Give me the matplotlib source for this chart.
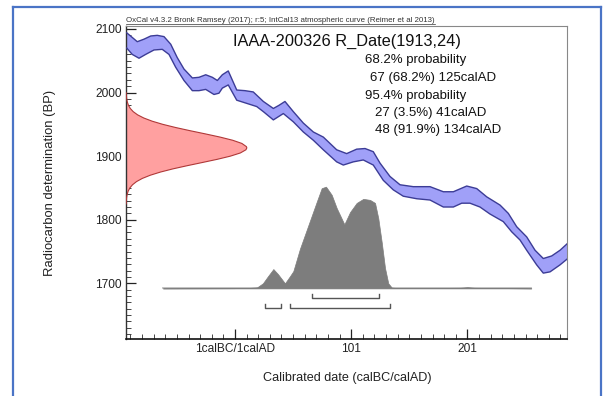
import numpy as np
import matplotlib
matplotlib.use('Agg')
import matplotlib.pyplot as plt
from matplotlib.lines import Line2D

plt.rcParams['font.family'] = ['Liberation Sans', 'DejaVu Sans']

# ---------------- data ----------------
# IntCal13 calibration curve band (upper / lower edges), calendar year vs BP
curve_upper_year = [-92.2, -87.6, -83.1, -77.3, -71.5, -65.9, -60.1, -54.3, -48.7, -42.9,
                    -35.7, -30.0, -24.2, -18.5, -14.2, -9.9, -4.8, 2.5, 9.6, 16.7,
                    25.4, 34.0, 38.9, 44.0, 51.2, 59.8, 68.4, 77.0, 88.5, 97.1,
                    105.7, 112.9, 120.0, 125.8, 134.4, 143.0, 154.4, 168.8, 180.3, 188.9,
                    200.4, 209.0, 217.6, 229.1, 236.2, 243.4, 252.0, 259.2, 266.3, 273.5,
                    280.7, 286.7]
curve_upper_bp = [2094, 2087, 2080, 2084, 2089, 2090, 2088, 2076, 2055, 2037,
                  2023, 2024, 2028, 2024, 2019, 2028, 2034, 2004, 2003, 2001,
                  1986, 1975, 1980, 1986, 1970, 1952, 1938, 1930, 1910, 1904,
                  1911, 1912, 1907, 1889, 1868, 1855, 1852, 1852, 1844, 1844,
                  1853, 1849, 1836, 1823, 1810, 1789, 1773, 1752, 1739, 1743,
                  1752, 1762]
curve_lower_year = [-92.2, -87.4, -81.6, -75.9, -68.7, -61.6, -55.8, -50.1, -42.9, -35.7,
                    -30.0, -24.2, -17.1, -12.8, -9.9, -4.8, 2.5, 11.1, 19.7, 25.4,
                    34.0, 42.6, 51.2, 59.8, 68.4, 77.0, 88.5, 94.2, 102.8, 111.4,
                    120.0, 128.6, 137.2, 145.8, 157.4, 168.8, 180.3, 188.9, 196.1, 203.2,
                    211.8, 220.4, 231.9, 239.1, 246.3, 252.0, 260.6, 266.3, 272.1, 280.7,
                    286.7]
curve_lower_bp = [2070, 2060, 2054, 2060, 2067, 2068, 2060, 2040, 2019, 2003,
                  2003, 2005, 1997, 1999, 2007, 2012, 1988, 1983, 1978, 1970,
                  1957, 1967, 1954, 1938, 1925, 1910, 1891, 1886, 1891, 1894,
                  1886, 1862, 1847, 1837, 1833, 1831, 1820, 1820, 1826, 1826,
                  1820, 1809, 1797, 1781, 1768, 1752, 1729, 1716, 1718, 1729,
                  1738]

# radiocarbon measurement R_Date(1913,24): profile width (in years) vs BP
red_bp = [1825, 1830, 1835, 1840, 1845, 1850, 1855, 1860, 1865, 1870, 1875, 1880,
          1885, 1890, 1895, 1900, 1905, 1910, 1913, 1915, 1920, 1925, 1930, 1935,
          1940, 1945, 1950, 1955, 1960, 1965, 1970, 1975, 1980, 1985, 1990, 1995, 2000]
red_width = [0.13, 0.26, 0.53, 1.02, 1.88, 3.32, 5.61, 9.08, 14.07, 20.9, 29.7, 40.4,
             52.7, 65.7, 78.5, 89.8, 98.4, 103.2, 104.0, 103.6, 99.7, 91.8, 80.9, 68.3,
             55.2, 42.8, 31.7, 22.5, 15.3, 9.94, 6.2, 3.69, 2.11, 1.16, 0.61, 0.30, 0.15]

# calibrated date distribution (relative probability)
cal_year = [-61, 0, 14, 20, 25, 29.4, 34, 38, 44, 48.3, 51.2, 56.9, 64.1, 71.3,
            75.6, 79.3, 84.2, 88.5, 95.1, 100, 105.7, 111.4, 117.2, 121.5, 124.3,
            127.3, 130.1, 132.9, 135.9, 140, 170, 195, 201, 207, 230, 256]
cal_prob = [0.0, 0.002, 0.005, 0.01, 0.05, 0.12, 0.19, 0.14, 0.05, 0.12, 0.17,
            0.39, 0.62, 0.85, 0.985, 1.0, 0.92, 0.79, 0.63, 0.75, 0.84, 0.88, 0.87,
            0.84, 0.69, 0.45, 0.20, 0.05, 0.008, 0.004, 0.004, 0.006, 0.012, 0.006,
            0.003, 0.0]

# highest posterior density ranges
range_68 = [(67, 125)]
range_95 = [(27, 41), (48, 134)]

y_ticks = [1700, 1800, 1900, 2000, 2100]
x_ticks = [1, 101, 201]
x_tick_labels = ['1calBC/1calAD', '101', '201']

header = 'OxCal v4.3.2 Bronk Ramsey (2017); r:5; IntCal13 atmospheric curve (Reimer et al 2013)'
title = 'IAAA-200326 R_Date(1913,24)'
prob_lines = ['68.2% probability', '67 (68.2%) 125calAD', '95.4% probability',
              '27 (3.5%) 41calAD', '48 (91.9%) 134calAD']

# ---------------- layout ----------------
W, H = 606, 396
fig = plt.figure(figsize=(W / 100, H / 100), dpi=100)
fig.patch.set_facecolor('white')

def fx(px):
    return px / W

def fy(py):
    return 1 - py / H

ax_l, ax_r, ax_t, ax_b = 126, 567, 26, 339
ax = fig.add_axes([fx(ax_l), fy(ax_b), (ax_r - ax_l) / W, (ax_b - ax_t) / H])
XMIN, XMAX = -92.8, 286.7
YMIN, YMAX = 1612.4, 2104.7
ax.set_xlim(XMIN, XMAX)
ax.set_ylim(YMIN, YMAX)

# calibration curve band
poly_x = np.concatenate([curve_upper_year, curve_lower_year[::-1]])
poly_y = np.concatenate([curve_upper_bp, curve_lower_bp[::-1]])
ax.fill(poly_x, poly_y, facecolor='#a0a0f8', edgecolor='none', zorder=2)
ax.plot(curve_upper_year, curve_upper_bp, color='#3c3c96', lw=1.0, zorder=3)
ax.plot(curve_lower_year, curve_lower_bp, color='#3c3c96', lw=1.0, zorder=3)

# measurement distribution on the y axis
red_x = XMIN + np.array(red_width)
ax.fill_betweenx(red_bp, XMIN, red_x, facecolor='#ffa0a0', edgecolor='none', zorder=2)
ax.plot(red_x, red_bp, color='#b03838', lw=0.8, zorder=3)

# calibrated distribution
base = 1692
scale = 160
ax.plot([cal_year[0], cal_year[-1]], [base, base], color='#bdbdbd', lw=1.3, zorder=2)
ax.fill_between(cal_year, base, base + scale * np.array(cal_prob),
                facecolor='#7d7d7d', edgecolor='#7d7d7d', lw=0.5, zorder=3)

# range brackets
def bracket(x0, x1, y, h):
    ax.plot([x0, x0, x1, x1], [y + h, y, y, y + h], color='#555555', lw=1.0, zorder=3)

for a, b in range_68:
    bracket(a, b, 1676.4, 6)
for a, b in range_95:
    bracket(a, b, 1661.5, 5.5)

# ticks
ax.set_yticks(y_ticks)
ax.set_yticks(np.arange(1620, 2101, 10), minor=True)
ax.set_xticks(x_ticks)
ax.set_xticklabels(x_tick_labels)
ax.set_xticks(np.arange(-89, 287, 10), minor=True)
ax.tick_params(axis='both', which='major', direction='in', length=7, width=0.9,
               labelsize=8.6, pad=3, colors='#222222')
ax.tick_params(axis='both', which='minor', direction='in', length=3.5, width=0.7,
               colors='#444444')
for lab in ax.get_xticklabels() + ax.get_yticklabels():
    lab.set_color('#222222')

for side in ['top', 'right']:
    ax.spines[side].set_color('#888888')
    ax.spines[side].set_linewidth(0.8)
ax.spines['left'].set_color('#333333')
ax.spines['left'].set_linewidth(1.0)
ax.spines['bottom'].set_color('#111111')
ax.spines['bottom'].set_linewidth(1.2)

# texts
fig.text(fx(50), fy(183), 'Radiocarbon determination (BP)', rotation=90,
         ha='center', va='center', fontsize=9.4, color='#222222')
fig.text(fx(347), fy(378), 'Calibrated date (calBC/calAD)', ha='center',
         va='center', fontsize=9.1, color='#222222')

hdr = fig.text(fx(126), fy(22.5), header, ha='left', va='baseline', fontsize=5.65,
               color='#333333')
fig.text(fx(233), fy(46), title, ha='left', va='baseline', fontsize=11.8,
         color='#111111')
prob_pos = [(364.7, 63), (369.7, 80.7), (364.7, 98.7), (374.7, 116.4), (374.7, 133)]
for (px, py), s in zip(prob_pos, prob_lines):
    fig.text(fx(px), fy(py), s, ha='left', va='baseline', fontsize=9.5, color='#111111')

# underline for header
fig.canvas.draw()
bb = hdr.get_window_extent()
fig.add_artist(Line2D([bb.x0 / W, bb.x1 / W], [fy(24.2), fy(24.2)],
                      transform=fig.transFigure, color='#333333', lw=0.5))

# outer blue frame (bottom edge lies outside the image)
frame_col = '#4a74c6'
for xs, ys in [([12.5, 600.5], [6.5, 6.5]), ([12.5, 12.5], [6.5, 400]),
               ([600.5, 600.5], [6.5, 400])]:
    fig.add_artist(Line2D([fx(x) for x in xs], [fy(y) for y in ys],
                          transform=fig.transFigure, color=frame_col, lw=1.6))

fig.savefig('out.png', dpi=100, facecolor='white')
